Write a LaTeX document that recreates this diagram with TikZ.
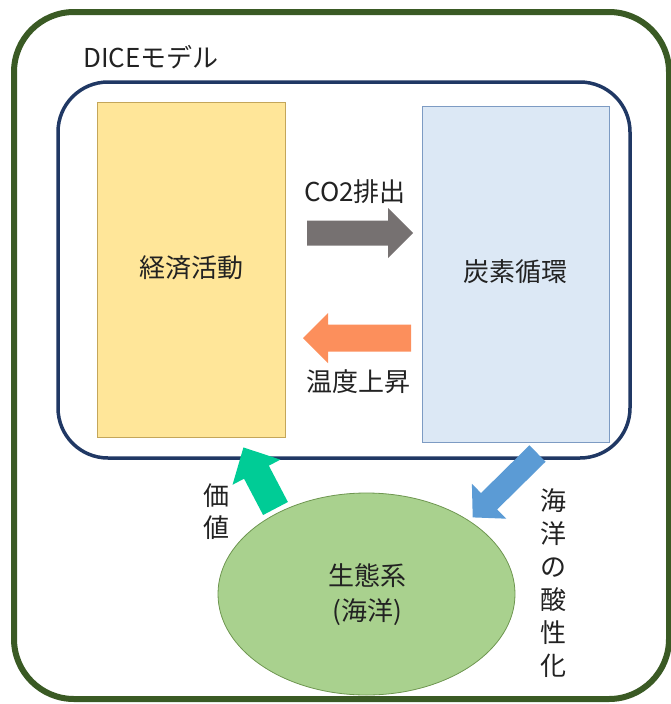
\documentclass[tikz,border=0pt]{standalone}
\usepackage{fontspec}
\setmainfont{Noto Sans CJK JP}
\usetikzlibrary{shapes.geometric}
\definecolor{outergreen}{RGB}{58,90,36}
\definecolor{navy}{RGB}{32,56,100}
\definecolor{yfill}{RGB}{255,230,153}
\definecolor{ydraw}{RGB}{196,166,90}
\definecolor{bfill}{RGB}{220,232,245}
\definecolor{bdraw}{RGB}{125,155,195}
\definecolor{grayarr}{RGB}{118,113,113}
\definecolor{orangearr}{RGB}{252,143,92}
\definecolor{greenarr}{RGB}{0,204,150}
\definecolor{bluearr}{RGB}{91,155,213}
\definecolor{efill}{RGB}{169,209,142}
\definecolor{edraw}{RGB}{110,150,80}
\definecolor{txtcol}{RGB}{34,34,34}
% block arrow: #1 colour, #2 tail coordinate, #3 angle, #4 length, #5 half shaft, #6 half head, #7 head length
\newcommand{\blockarr}[7]{%
  \fill[#1, shift={(#2)}, rotate=#3] (0,-#5) -- ({#4-#7},-#5) -- ({#4-#7},-#6) -- (#4,0)
    -- ({#4-#7},#6) -- ({#4-#7},#5) -- (0,#5) -- cycle;}
\begin{document}
\begin{tikzpicture}[x=1pt,y=-1pt,
  txt/.style={font=\fontsize{26}{30}\selectfont, text=txtcol, inner sep=0pt},
  vtxt/.style={font=\fontsize{26}{33}\selectfont, text=txtcol, inner sep=0pt, align=center},
  box/.style={rectangle, inner sep=0pt, line width=0.8pt}]
\useasboundingbox (0,0) rectangle (671,704);
% containers
\draw[outergreen, line width=6pt, rounded corners=60pt] (14,12) rectangle (669,699);
\draw[navy, line width=3.5pt, rounded corners=50pt] (58,82) rectangle (630,458);
\node[txt, anchor=west] (dice) at (83,57) {DICEモデル};
% main blocks
\node[box, fill=yfill, draw=ydraw, minimum width=188pt, minimum height=335pt] (econ) at (191,269.5) {};
\node[txt] (econt) at (191,268) {経済活動};
\node[box, fill=bfill, draw=bdraw, minimum width=187pt, minimum height=336pt] (carbon) at (515.5,274) {};
\node[txt] (carbont) at (515,272) {炭素循環};
% ecosystem
\node[ellipse, fill=efill, draw=edraw, line width=0.8pt, minimum width=297pt, minimum height=202pt, inner sep=0pt] (eco) at (366.5,594) {};
\node[vtxt, font=\fontsize{26}{35}\selectfont] (ecot) at (367,594.5) {生態系\\(海洋)};
% block arrows
\coordinate (co2tail) at (307,233);
\coordinate (temptail) at (411,338);
\coordinate (valuetail) at (275.5,508.5);
\coordinate (acidtail) at (537.5,453.5);
\blockarr{grayarr}{co2tail}{0}{106}{12.5}{25}{25}
\blockarr{orangearr}{temptail}{180}{108}{13.5}{25}{25}
\blockarr{greenarr}{valuetail}{117.7}{69}{14}{27}{28}
\blockarr{bluearr}{acidtail}{-135.4}{91}{11.5}{24.5}{23}
% labels
\node[txt] (co2t) at (355,192) {CO2排出};
\node[txt] (tempt) at (358,382) {温度上昇};
\node[vtxt, font=\fontsize{26}{32}\selectfont] (valuet) at (216,512) {価\\値};
\node[vtxt] (acidt) at (553,583.5) {海\\洋\\の\\酸\\性\\化};
\end{tikzpicture}
\end{document}
